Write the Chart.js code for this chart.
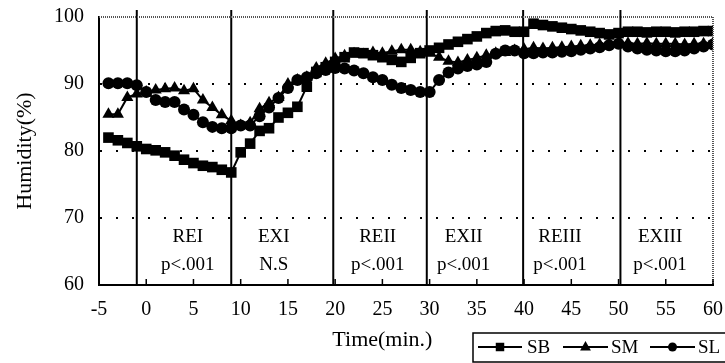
<!DOCTYPE html>
<html>
<head>
<meta charset="utf-8">
<script src="https://cdn.jsdelivr.net/npm/chart.js@4.4.1/dist/chart.umd.min.js"></script>
<style>
    html, body { margin: 0; padding: 0; background: #fff; }
</style>
</head>
<body>
<canvas id="humidityChart" width="725" height="363"></canvas>
<script>
// Sample times (min.)
const times = [-4, -3, -2, -1, 0, 1, 2, 3, 4, 5, 6, 7, 8, 9,
               10, 11, 12, 13, 14, 15, 16, 17, 18, 19,
               20, 21, 22, 23, 24, 25, 26, 27, 28, 29,
               30, 31, 32, 33, 34, 35, 36, 37, 38, 39,
               40, 41, 42, 43, 44, 45, 46, 47, 48, 49,
               50, 51, 52, 53, 54, 55, 56, 57, 58, 59, 60];

// Humidity (%) per group
const sbValues = [82.0, 81.6, 81.2, 80.7, 80.3, 80.1, 79.8, 79.3, 78.7, 78.2, 77.8, 77.6, 77.2, 76.8,
                  79.8, 81.1, 83.0, 83.4, 85.0, 85.7, 86.6, 89.6, 91.8, 92.5,
                  93.3, 94.0, 94.7, 94.6, 94.3, 94.0, 93.6, 93.3, 93.9, 94.6,
                  95.0, 95.4, 95.9, 96.3, 96.7, 97.1, 97.6, 97.9, 98.0, 97.8,
                  97.8, 99.0, 98.8, 98.6, 98.4, 98.2, 98.0, 97.8, 97.6, 97.4,
                  97.6, 97.8, 97.8, 97.7, 97.8, 97.8, 97.7, 97.8, 97.8, 97.9, 97.9];
const smValues = [85.5, 85.5, 88.0, 88.5, 88.8, 89.1, 89.3, 89.4, 89.0, 89.3, 87.6, 86.5, 85.4, 84.5,
                  83.8, 84.2, 86.3, 87.2, 88.0, 90.0, 90.6, 91.0, 92.4, 93.1,
                  93.8, 94.2, 94.5, 94.4, 94.7, 94.6, 94.9, 95.1, 95.1, 94.8,
                  94.6, 94.0, 93.4, 93.2, 93.6, 93.9, 94.3, 94.6, 94.7, 95.0,
                  95.2, 95.4, 95.3, 95.4, 95.5, 95.6, 95.7, 95.8, 95.9, 96.0,
                  96.0, 96.1, 96.0, 96.1, 96.0, 96.0, 96.0, 95.9, 96.0, 96.0, 96.1];
const slValues = [90.1, 90.1, 90.1, 89.8, 88.8, 87.6, 87.3, 87.3, 86.2, 85.4, 84.3, 83.6, 83.4, 83.4,
                  83.8, 83.8, 85.2, 86.5, 87.9, 89.4, 90.6, 91.0, 91.6, 92.1,
                  92.4, 92.3, 92.0, 91.6, 91.0, 90.6, 89.9, 89.4, 89.1, 88.8,
                  88.8, 90.6, 91.7, 92.3, 92.7, 92.9, 93.3, 94.5, 95.0, 95.0,
                  94.6, 94.6, 94.7, 94.7, 94.8, 94.9, 95.1, 95.3, 95.5, 95.8,
                  96.0, 95.6, 95.3, 95.1, 95.0, 94.9, 94.9, 95.0, 95.3, 95.6, 95.9];

// Phase boundaries and labels
const phaseLines = [-1, 9, 19.8, 29.7, 39.9, 50.2];
const phaseNames = ["REI", "EXI", "REII", "EXII", "REIII", "EXIII"];
const phaseStats = ["p<.001", "N.S", "p<.001", "p<.001", "p<.001", "p<.001"];
const phaseLabelTimes = [4.4, 13.5, 24.5, 33.6, 43.8, 54.4];

const FONT = "'Liberation Serif', 'Times New Roman', serif";

function toPoints(values) {
    return times.map((t, i) => ({ x: t, y: values[i] }));
}

function drawMarker(ctx, style, x, y, r) {
    ctx.beginPath();
    if (style === "rect") {
        const s = r * Math.SQRT1_2;
        ctx.rect(x - s, y - s, 2 * s, 2 * s);
    } else if (style === "triangle") {
        ctx.moveTo(x, y - r);
        ctx.lineTo(x + r * 0.9, y + r * 0.6);
        ctx.lineTo(x - r * 0.9, y + r * 0.6);
        ctx.closePath();
    } else {
        ctx.arc(x, y, r, 0, Math.PI * 2);
    }
    ctx.fill();
}

// Draws phase lines, labels, frame, inside ticks, x title and legend box
const overlay = {
    id: "overlay",
    beforeDatasetsDraw(chart) {
        const { ctx, chartArea, scales: { x, y } } = chart;
        ctx.save();
        ctx.strokeStyle = "#000";
        ctx.lineWidth = 2;
        phaseLines.forEach(t => {
            const px = x.getPixelForValue(t);
            ctx.beginPath();
            ctx.moveTo(px, chartArea.top - 7);
            ctx.lineTo(px, chartArea.bottom);
            ctx.stroke();
        });
        ctx.fillStyle = "#000";
        ctx.font = "19px " + FONT;
        ctx.textAlign = "center";
        ctx.textBaseline = "middle";
        phaseNames.forEach((name, i) => {
            const px = x.getPixelForValue(phaseLabelTimes[i]);
            ctx.fillText(name, px, y.getPixelForValue(67.2));
            ctx.fillText(phaseStats[i], px, y.getPixelForValue(63.0));
        });
        ctx.restore();
    },
    afterDraw(chart) {
        const { ctx, chartArea, scales: { x } } = chart;
        ctx.save();
        // top / right frame
        ctx.strokeStyle = "#555";
        ctx.lineWidth = 2;
        ctx.setLineDash([1, 1]);
        ctx.beginPath();
        ctx.moveTo(chartArea.left, chartArea.top);
        ctx.lineTo(chartArea.right, chartArea.top);
        ctx.lineTo(chartArea.right, chartArea.bottom);
        ctx.stroke();
        ctx.setLineDash([]);

        // inside tick marks on x axis
        ctx.strokeStyle = "#000";
        ctx.lineWidth = 1.5;
        x.ticks.forEach(tick => {
            const px = x.getPixelForValue(tick.value);
            ctx.beginPath();
            ctx.moveTo(px, chartArea.bottom);
            ctx.lineTo(px, chartArea.bottom - 6);
            ctx.stroke();
        });

        // x axis title
        ctx.fillStyle = "#000";
        ctx.font = "22px " + FONT;
        ctx.textAlign = "center";
        ctx.textBaseline = "middle";
        ctx.fillText("Time(min.)", x.getPixelForValue(25), 340);

        // legend
        ctx.lineWidth = 1.5;
        ctx.strokeRect(473, 333, 262, 29);
        const lineStart = [478, 563, 650];
        const lineEnd = [522, 608, 695];
        const textX = [527, 611, 698];
        const ly = 347;
        ctx.font = "19px " + FONT;
        ctx.textAlign = "left";
        chart.data.datasets.forEach((ds, i) => {
            ctx.lineWidth = 2;
            ctx.beginPath();
            ctx.moveTo(lineStart[i], ly);
            ctx.lineTo(lineEnd[i], ly);
            ctx.stroke();
            drawMarker(ctx, ds.pointStyle, (lineStart[i] + lineEnd[i]) / 2, ly, ds.pointStyle === "circle" ? 4.5 : 6);
            ctx.fillText(ds.label, textX[i], ly + 1);
        });
        ctx.restore();
    }
};

new Chart(document.getElementById("humidityChart"), {
    type: "line",
    data: {
        datasets: [
            {
                label: "SB",
                data: toPoints(sbValues),
                borderColor: "#000",
                backgroundColor: "#000",
                borderWidth: 2,
                pointStyle: "rect",
                pointRadius: 7.5,
                pointBorderWidth: 0
            },
            {
                label: "SM",
                data: toPoints(smValues),
                borderColor: "#000",
                backgroundColor: "#000",
                borderWidth: 2,
                pointStyle: "triangle",
                pointRadius: 7,
                pointBorderWidth: 0
            },
            {
                label: "SL",
                data: toPoints(slValues),
                borderColor: "#000",
                backgroundColor: "#000",
                borderWidth: 2,
                pointStyle: "circle",
                pointRadius: 6,
                pointBorderWidth: 0
            }
        ]
    },
    options: {
        responsive: false,
        animation: false,
        devicePixelRatio: 1,
        layout: { padding: { top: 17, right: 12, left: 0, bottom: 0 } },
        plugins: {
            legend: { display: false },
            tooltip: { enabled: false }
        },
        scales: {
            x: {
                type: "linear",
                min: -5,
                max: 60,
                ticks: {
                    stepSize: 5,
                    autoSkip: false,
                    maxRotation: 0,
                    color: "#000",
                    padding: 0,
                    font: { family: FONT, size: 20 }
                },
                grid: {
                    display: true,
                    drawOnChartArea: false,
                    drawTicks: true,
                    tickLength: 13,
                    tickColor: "transparent"
                },
                border: { color: "#000", width: 2 },
                afterFit: scale => { scale.height = 78; }
            },
            y: {
                min: 60,
                max: 100,
                ticks: {
                    stepSize: 10,
                    color: "#000",
                    padding: 0,
                    font: { family: FONT, size: 20 }
                },
                grid: {
                    drawTicks: true,
                    tickLength: 15,
                    tickColor: "transparent",
                    lineWidth: 2,
                    color: ctx => [70, 80, 90].includes(ctx.tick.value) ? "#000" : "transparent"
                },
                border: { color: "#000", width: 2, dash: [2, 14] },
                title: {
                    display: true,
                    text: "Humidity(%)",
                    color: "#000",
                    padding: { top: 12 },
                    font: { family: FONT, size: 22 }
                },
                afterFit: scale => { scale.width = 99; }
            }
        }
    },
    plugins: [overlay]
});
</script>
</body>
</html>
